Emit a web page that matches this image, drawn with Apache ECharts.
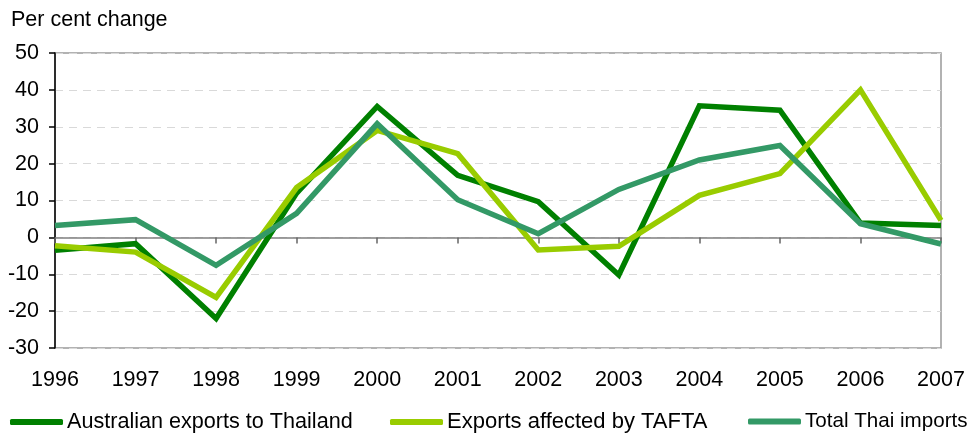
<!DOCTYPE html>
<html>
<head>
<meta charset="utf-8">
<script src="https://cdn.jsdelivr.net/npm/echarts@6/dist/echarts.min.js"></script>
<style>
  html, body { margin: 0; padding: 0; background: #fff; }
  #chart { width: 977px; height: 437px; }
</style>
</head>
<body>
<div id="chart"></div>
<script>
// Annual per cent change, 1996–2007
const years = ['1996', '1997', '1998', '1999', '2000', '2001', '2002', '2003', '2004', '2005', '2006', '2007'];
const australianExports = [-3.5, -1.7, -22, 12, 35.5, 16.8, 9.7, -10.2, 35.7, 34.5, 3.9, 3.2];
const taftaExports = [-2.3, -4, -16.3, 13.5, 29, 22.7, -3.4, -2.4, 11.4, 17.3, 40, 4.6];
const thaiImports = [3.2, 4.8, -7.6, 6.5, 30.8, 10.2, 1, 13, 21, 24.9, 3.7, -1.8];
const seriesNames = ['Australian exports to Thailand', 'Exports affected by TAFTA', 'Total Thai imports'];
const seriesColors = ['#008000', '#99cc00', '#339966'];

const FONT = '"Liberation Sans", Arial, sans-serif';

const chart = echarts.init(document.getElementById('chart'), null, { renderer: 'canvas' });

const values = [australianExports, taftaExports, thaiImports];
const legendLefts = [10, 390, 748];
const legendFontSizes = [21.6, 22, 20.6];

chart.setOption({
  animation: false,
  backgroundColor: '#fff',
  title: {
    text: 'Per cent change',
    left: 11,
    top: 9,
    padding: 0,
    textStyle: { fontFamily: FONT, fontSize: 21.5, fontWeight: 'normal', color: '#000' }
  },
  legend: seriesNames.map((name, i) => ({
    data: [name],
    left: legendLefts[i],
    top: 411,
    padding: 0,
    icon: 'roundRect',
    itemWidth: 53,
    itemHeight: 6,
    itemGap: 4,
    textStyle: { fontFamily: FONT, fontSize: legendFontSizes[i], color: '#000', padding: [0, 0, 0, -1] }
  })),
  grid: {
    left: 55,
    right: 36,
    top: 53,
    bottom: 89,
    show: true,
    borderColor: '#999',
    borderWidth: 1.5,
    containLabel: false
  },
  xAxis: [
    {
      // labels along the bottom edge
      type: 'category',
      data: years,
      boundaryGap: false,
      position: 'bottom',
      axisLine: { show: false, onZero: false },
      axisTick: { show: false },
      splitLine: { show: false },
      axisLabel: { fontFamily: FONT, fontSize: 21.5, color: '#000', margin: 21 }
    },
    {
      // zero line with its tick marks
      type: 'category',
      data: years,
      boundaryGap: false,
      position: 'top',
      axisLine: { show: true, onZero: true, lineStyle: { color: '#808080', width: 1.5 } },
      axisTick: { show: true, inside: true, length: 6, lineStyle: { color: '#666', width: 1.5 } },
      axisLabel: { show: false },
      splitLine: { show: false }
    }
  ],
  yAxis: {
    type: 'value',
    min: -30,
    max: 50,
    interval: 10,
    axisLine: { show: true, onZero: false, lineStyle: { color: '#000', width: 1.5 } },
    axisTick: { show: true, length: 6, lineStyle: { color: '#000', width: 1.5 } },
    axisLabel: { fontFamily: FONT, fontSize: 21.5, color: '#000', margin: 16 },
    splitLine: { show: true, lineStyle: { color: '#d9d9d9', width: 1, type: [8, 6] } }
  },
  series: seriesNames.map((name, i) => ({
    name: name,
    type: 'line',
    xAxisIndex: 0,
    data: values[i],
    symbol: 'none',
    color: seriesColors[i],
    lineStyle: { color: seriesColors[i], width: 5.5, join: 'miter', miterLimit: 6 },
    emphasis: { disabled: true }
  }))
});
</script>
</body>
</html>
